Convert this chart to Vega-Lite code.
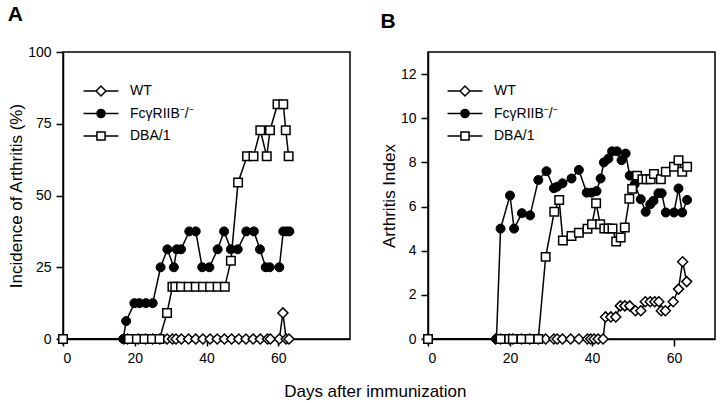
{
  "$schema": "https://vega.github.io/schema/vega-lite/v6.json",
  "padding": {"left": 6, "top": 3, "right": 2, "bottom": 2},
  "config": {
    "font": "Liberation Sans",
    "view": {"stroke": "black", "strokeWidth": 1.5},
    "axis": {"domainColor": "black", "domainWidth": 1.5, "tickColor": "black", "tickWidth": 1.5, "tickSize": 7, "labelFontSize": 14, "labelColor": "black", "labelPadding": 5, "titleFontSize": 17, "titleFontWeight": "normal", "titleColor": "black", "titlePadding": 2, "grid": false},
    "legend": {"labelFontSize": 14, "labelColor": "black", "title": null, "orient": "none", "legendY": 29, "symbolSize": 324, "symbolStrokeWidth": 1.5, "symbolOpacity": 1, "labelOffset": 19, "rowPadding": 4.5}
  },
  "datasets": {
    "a": [
      {"day": 0, "val": 0, "series": "WT"},
      {"day": 17, "val": 0, "series": "WT"},
      {"day": 18, "val": 0, "series": "WT"},
      {"day": 21, "val": 0, "series": "WT"},
      {"day": 23, "val": 0, "series": "WT"},
      {"day": 25, "val": 0, "series": "WT"},
      {"day": 27, "val": 0, "series": "WT"},
      {"day": 29, "val": 0, "series": "WT"},
      {"day": 30.5, "val": 0, "series": "WT"},
      {"day": 31.5, "val": 0, "series": "WT"},
      {"day": 33, "val": 0, "series": "WT"},
      {"day": 35, "val": 0, "series": "WT"},
      {"day": 37, "val": 0, "series": "WT"},
      {"day": 39, "val": 0, "series": "WT"},
      {"day": 41, "val": 0, "series": "WT"},
      {"day": 43, "val": 0, "series": "WT"},
      {"day": 45, "val": 0, "series": "WT"},
      {"day": 47, "val": 0, "series": "WT"},
      {"day": 49, "val": 0, "series": "WT"},
      {"day": 51, "val": 0, "series": "WT"},
      {"day": 53, "val": 0, "series": "WT"},
      {"day": 55, "val": 0, "series": "WT"},
      {"day": 57, "val": 0, "series": "WT"},
      {"day": 57.8, "val": 0, "series": "WT"},
      {"day": 60.3, "val": 0, "series": "WT"},
      {"day": 61.3, "val": 9.09, "series": "WT"},
      {"day": 62.2, "val": 0, "series": "WT"},
      {"day": 63, "val": 0, "series": "WT"},
      {"day": 0, "val": 0, "series": "FcγRIIB⁻/⁻"},
      {"day": 16.8, "val": 0, "series": "FcγRIIB⁻/⁻"},
      {"day": 17.6, "val": 6.25, "series": "FcγRIIB⁻/⁻"},
      {"day": 19.9, "val": 12.5, "series": "FcγRIIB⁻/⁻"},
      {"day": 21.3, "val": 12.5, "series": "FcγRIIB⁻/⁻"},
      {"day": 23.1, "val": 12.5, "series": "FcγRIIB⁻/⁻"},
      {"day": 25, "val": 12.5, "series": "FcγRIIB⁻/⁻"},
      {"day": 27.2, "val": 25, "series": "FcγRIIB⁻/⁻"},
      {"day": 29.1, "val": 31.25, "series": "FcγRIIB⁻/⁻"},
      {"day": 30.9, "val": 25, "series": "FcγRIIB⁻/⁻"},
      {"day": 31.7, "val": 31.25, "series": "FcγRIIB⁻/⁻"},
      {"day": 32.9, "val": 31.25, "series": "FcγRIIB⁻/⁻"},
      {"day": 35.2, "val": 37.5, "series": "FcγRIIB⁻/⁻"},
      {"day": 37, "val": 37.5, "series": "FcγRIIB⁻/⁻"},
      {"day": 38.8, "val": 25, "series": "FcγRIIB⁻/⁻"},
      {"day": 40.8, "val": 25, "series": "FcγRIIB⁻/⁻"},
      {"day": 43.1, "val": 31.25, "series": "FcγRIIB⁻/⁻"},
      {"day": 44.9, "val": 37.5, "series": "FcγRIIB⁻/⁻"},
      {"day": 46.8, "val": 31.25, "series": "FcγRIIB⁻/⁻"},
      {"day": 48.7, "val": 31.25, "series": "FcγRIIB⁻/⁻"},
      {"day": 51.1, "val": 37.5, "series": "FcγRIIB⁻/⁻"},
      {"day": 53.2, "val": 37.5, "series": "FcγRIIB⁻/⁻"},
      {"day": 54.9, "val": 31.25, "series": "FcγRIIB⁻/⁻"},
      {"day": 56.5, "val": 25, "series": "FcγRIIB⁻/⁻"},
      {"day": 57.6, "val": 25, "series": "FcγRIIB⁻/⁻"},
      {"day": 60.3, "val": 25, "series": "FcγRIIB⁻/⁻"},
      {"day": 61.4, "val": 37.5, "series": "FcγRIIB⁻/⁻"},
      {"day": 62.3, "val": 37.5, "series": "FcγRIIB⁻/⁻"},
      {"day": 63.1, "val": 37.5, "series": "FcγRIIB⁻/⁻"},
      {"day": 0, "val": 0, "series": "DBA/1"},
      {"day": 18.4, "val": 0, "series": "DBA/1"},
      {"day": 20.6, "val": 0, "series": "DBA/1"},
      {"day": 22.7, "val": 0, "series": "DBA/1"},
      {"day": 24.8, "val": 0, "series": "DBA/1"},
      {"day": 26.9, "val": 0, "series": "DBA/1"},
      {"day": 29, "val": 9.09, "series": "DBA/1"},
      {"day": 30.5, "val": 18.18, "series": "DBA/1"},
      {"day": 31.3, "val": 18.18, "series": "DBA/1"},
      {"day": 32.9, "val": 18.18, "series": "DBA/1"},
      {"day": 35, "val": 18.18, "series": "DBA/1"},
      {"day": 37, "val": 18.18, "series": "DBA/1"},
      {"day": 39, "val": 18.18, "series": "DBA/1"},
      {"day": 41, "val": 18.18, "series": "DBA/1"},
      {"day": 43.1, "val": 18.18, "series": "DBA/1"},
      {"day": 45.1, "val": 18.18, "series": "DBA/1"},
      {"day": 46.8, "val": 27.27, "series": "DBA/1"},
      {"day": 48.8, "val": 54.55, "series": "DBA/1"},
      {"day": 51.3, "val": 63.64, "series": "DBA/1"},
      {"day": 53.1, "val": 63.64, "series": "DBA/1"},
      {"day": 55, "val": 72.73, "series": "DBA/1"},
      {"day": 56.8, "val": 63.64, "series": "DBA/1"},
      {"day": 57.7, "val": 72.73, "series": "DBA/1"},
      {"day": 59.8, "val": 81.82, "series": "DBA/1"},
      {"day": 61.4, "val": 81.82, "series": "DBA/1"},
      {"day": 62.1, "val": 72.73, "series": "DBA/1"},
      {"day": 62.9, "val": 63.64, "series": "DBA/1"}
    ],
    "b": [
      {"day": 0, "val": 0, "series": "WT"},
      {"day": 16.5, "val": 0, "series": "WT"},
      {"day": 17.7, "val": 0, "series": "WT"},
      {"day": 19.8, "val": 0, "series": "WT"},
      {"day": 20.7, "val": 0, "series": "WT"},
      {"day": 22.8, "val": 0, "series": "WT"},
      {"day": 24.8, "val": 0, "series": "WT"},
      {"day": 26.9, "val": 0, "series": "WT"},
      {"day": 28.7, "val": 0, "series": "WT"},
      {"day": 30.7, "val": 0, "series": "WT"},
      {"day": 31.5, "val": 0, "series": "WT"},
      {"day": 32.8, "val": 0, "series": "WT"},
      {"day": 34.8, "val": 0, "series": "WT"},
      {"day": 36.8, "val": 0, "series": "WT"},
      {"day": 38.9, "val": 0, "series": "WT"},
      {"day": 39.7, "val": 0, "series": "WT"},
      {"day": 40.5, "val": 0, "series": "WT"},
      {"day": 41.5, "val": 0, "series": "WT"},
      {"day": 42.7, "val": 0, "series": "WT"},
      {"day": 43.3, "val": 1.0, "series": "WT"},
      {"day": 44.6, "val": 1.0, "series": "WT"},
      {"day": 45.8, "val": 1.0, "series": "WT"},
      {"day": 46.9, "val": 1.5, "series": "WT"},
      {"day": 48, "val": 1.5, "series": "WT"},
      {"day": 49.2, "val": 1.5, "series": "WT"},
      {"day": 50.6, "val": 1.28, "series": "WT"},
      {"day": 51.9, "val": 1.28, "series": "WT"},
      {"day": 53, "val": 1.69, "series": "WT"},
      {"day": 54.2, "val": 1.69, "series": "WT"},
      {"day": 55.3, "val": 1.69, "series": "WT"},
      {"day": 56.3, "val": 1.69, "series": "WT"},
      {"day": 56.9, "val": 1.28, "series": "WT"},
      {"day": 57.9, "val": 1.28, "series": "WT"},
      {"day": 59.8, "val": 1.69, "series": "WT"},
      {"day": 61.1, "val": 2.26, "series": "WT"},
      {"day": 62.1, "val": 3.5, "series": "WT"},
      {"day": 63.1, "val": 2.6, "series": "WT"},
      {"day": 0, "val": 0, "series": "FcγRIIB⁻/⁻"},
      {"day": 16.7, "val": 0, "series": "FcγRIIB⁻/⁻"},
      {"day": 17.7, "val": 5.0, "series": "FcγRIIB⁻/⁻"},
      {"day": 20, "val": 6.5, "series": "FcγRIIB⁻/⁻"},
      {"day": 21, "val": 5.0, "series": "FcγRIIB⁻/⁻"},
      {"day": 22.9, "val": 5.7, "series": "FcγRIIB⁻/⁻"},
      {"day": 24.9, "val": 5.6, "series": "FcγRIIB⁻/⁻"},
      {"day": 26.9, "val": 7.2, "series": "FcγRIIB⁻/⁻"},
      {"day": 28.9, "val": 7.6, "series": "FcγRIIB⁻/⁻"},
      {"day": 30.7, "val": 6.83, "series": "FcγRIIB⁻/⁻"},
      {"day": 31.5, "val": 6.9, "series": "FcγRIIB⁻/⁻"},
      {"day": 32.8, "val": 7.05, "series": "FcγRIIB⁻/⁻"},
      {"day": 35, "val": 7.27, "series": "FcγRIIB⁻/⁻"},
      {"day": 36.8, "val": 7.66, "series": "FcγRIIB⁻/⁻"},
      {"day": 38.7, "val": 6.63, "series": "FcγRIIB⁻/⁻"},
      {"day": 39.9, "val": 6.63, "series": "FcγRIIB⁻/⁻"},
      {"day": 41.1, "val": 6.7, "series": "FcγRIIB⁻/⁻"},
      {"day": 42.1, "val": 7.27, "series": "FcγRIIB⁻/⁻"},
      {"day": 42.9, "val": 8.0, "series": "FcγRIIB⁻/⁻"},
      {"day": 44, "val": 8.17, "series": "FcγRIIB⁻/⁻"},
      {"day": 44.9, "val": 8.5, "series": "FcγRIIB⁻/⁻"},
      {"day": 46.1, "val": 8.5, "series": "FcγRIIB⁻/⁻"},
      {"day": 47.2, "val": 8.1, "series": "FcγRIIB⁻/⁻"},
      {"day": 48.2, "val": 8.4, "series": "FcγRIIB⁻/⁻"},
      {"day": 49.2, "val": 7.4, "series": "FcγRIIB⁻/⁻"},
      {"day": 50.4, "val": 7.0, "series": "FcγRIIB⁻/⁻"},
      {"day": 51.9, "val": 6.33, "series": "FcγRIIB⁻/⁻"},
      {"day": 53.1, "val": 5.76, "series": "FcγRIIB⁻/⁻"},
      {"day": 54.2, "val": 6.1, "series": "FcγRIIB⁻/⁻"},
      {"day": 55, "val": 6.26, "series": "FcγRIIB⁻/⁻"},
      {"day": 56.2, "val": 6.6, "series": "FcγRIIB⁻/⁻"},
      {"day": 57, "val": 6.6, "series": "FcγRIIB⁻/⁻"},
      {"day": 58, "val": 5.73, "series": "FcγRIIB⁻/⁻"},
      {"day": 60, "val": 5.73, "series": "FcγRIIB⁻/⁻"},
      {"day": 61.1, "val": 6.82, "series": "FcγRIIB⁻/⁻"},
      {"day": 62, "val": 5.73, "series": "FcγRIIB⁻/⁻"},
      {"day": 63.2, "val": 6.3, "series": "FcγRIIB⁻/⁻"},
      {"day": 0, "val": 0, "series": "DBA/1"},
      {"day": 17.7, "val": 0, "series": "DBA/1"},
      {"day": 19.8, "val": 0, "series": "DBA/1"},
      {"day": 20.7, "val": 0, "series": "DBA/1"},
      {"day": 22.8, "val": 0, "series": "DBA/1"},
      {"day": 24.8, "val": 0, "series": "DBA/1"},
      {"day": 26.9, "val": 0, "series": "DBA/1"},
      {"day": 28.7, "val": 3.72, "series": "DBA/1"},
      {"day": 30.8, "val": 5.76, "series": "DBA/1"},
      {"day": 32, "val": 6.3, "series": "DBA/1"},
      {"day": 32.9, "val": 4.46, "series": "DBA/1"},
      {"day": 35, "val": 4.67, "series": "DBA/1"},
      {"day": 36.8, "val": 4.81, "series": "DBA/1"},
      {"day": 38.9, "val": 4.99, "series": "DBA/1"},
      {"day": 40, "val": 5.2, "series": "DBA/1"},
      {"day": 41, "val": 6.15, "series": "DBA/1"},
      {"day": 42, "val": 5.2, "series": "DBA/1"},
      {"day": 43, "val": 5.0, "series": "DBA/1"},
      {"day": 44, "val": 5.0, "series": "DBA/1"},
      {"day": 45, "val": 5.0, "series": "DBA/1"},
      {"day": 45.9, "val": 4.42, "series": "DBA/1"},
      {"day": 47, "val": 4.6, "series": "DBA/1"},
      {"day": 48, "val": 5.05, "series": "DBA/1"},
      {"day": 49.1, "val": 6.35, "series": "DBA/1"},
      {"day": 49.8, "val": 6.8, "series": "DBA/1"},
      {"day": 51, "val": 7.4, "series": "DBA/1"},
      {"day": 52.3, "val": 7.24, "series": "DBA/1"},
      {"day": 53.3, "val": 7.24, "series": "DBA/1"},
      {"day": 54.3, "val": 7.24, "series": "DBA/1"},
      {"day": 55.1, "val": 7.47, "series": "DBA/1"},
      {"day": 56.8, "val": 7.24, "series": "DBA/1"},
      {"day": 58, "val": 7.58, "series": "DBA/1"},
      {"day": 60, "val": 7.8, "series": "DBA/1"},
      {"day": 61.1, "val": 8.1, "series": "DBA/1"},
      {"day": 62, "val": 7.58, "series": "DBA/1"},
      {"day": 63.2, "val": 7.8, "series": "DBA/1"}
    ]
  },
  "title": {"text": "Days after immunization", "orient": "bottom", "anchor": "middle", "fontSize": 17, "fontWeight": "normal", "color": "black", "offset": 18, "dx": 14},
  "spacing": 28,
  "resolve": {"scale": {"shape": "independent", "fill": "independent", "stroke": "independent"}, "legend": {"shape": "independent", "fill": "independent", "stroke": "independent"}},
  "hconcat": [
    {
      "width": 287,
      "height": 287,
      "title": {"text": "A", "anchor": "start", "fontSize": 21, "fontWeight": "bold", "color": "black", "offset": 20},
      "data": {"name": "a"},
      "encoding": {
        "x": {"field": "day", "type": "quantitative", "scale": {"domain": [0, 80], "nice": false}, "axis": {"values": [0, 20, 40, 60], "title": null}},
        "y": {"field": "val", "type": "quantitative", "scale": {"domain": [0, 100], "nice": false}, "axis": {"values": [0, 25, 50, 75, 100], "title": "Incidence of Arthritis (%)"}}
      },
      "layer": [
        {"mark": {"type": "line", "color": "black", "strokeWidth": 1.5}, "encoding": {"detail": {"field": "series"}}},
        {"transform": [{"filter": "datum.series === 'WT'"}], "mark": {"type": "point", "shape": "diamond", "size": 100, "filled": true, "fill": "white", "stroke": "black", "strokeWidth": 1.5, "opacity": 1}},
        {"transform": [{"filter": "datum.series !== 'WT' && datum.series !== 'DBA/1'"}], "mark": {"type": "point", "shape": "circle", "size": 81, "filled": true, "fill": "black", "stroke": "black", "strokeWidth": 1, "opacity": 1}},
        {"transform": [{"filter": "datum.series === 'DBA/1'"}], "mark": {"type": "point", "shape": "square", "size": 72, "filled": true, "fill": "white", "stroke": "black", "strokeWidth": 1.5, "opacity": 1}},
        {
          "mark": {"type": "point", "opacity": 0, "filled": true, "strokeWidth": 1.5},
          "encoding": {
            "shape": {"field": "series", "type": "nominal", "scale": {"domain": ["WT", "FcγRIIB⁻/⁻", "DBA/1"], "range": ["M-1.94,0L-0.55,0M0.55,0L1.94,0M-0.55,0L0,-0.55L0.55,0L0,0.55Z", "M-1.94,0L-0.45,0M0.45,0L1.94,0M-0.45,0A0.45,0.45,0,1,1,0.45,0A0.45,0.45,0,1,1,-0.45,0Z", "M-1.94,0L-0.45,0M0.45,0L1.94,0M-0.45,-0.45L0.45,-0.45L0.45,0.45L-0.45,0.45Z"]}, "legend": {"legendX": 28}},
            "fill": {"field": "series", "type": "nominal", "scale": {"domain": ["WT", "FcγRIIB⁻/⁻", "DBA/1"], "range": ["white", "black", "white"]}, "legend": {"legendX": 28}},
            "stroke": {"field": "series", "type": "nominal", "scale": {"domain": ["WT", "FcγRIIB⁻/⁻", "DBA/1"], "range": ["black", "black", "black"]}, "legend": {"legendX": 28}}
          }
        }
      ]
    },
    {
      "width": 287,
      "height": 287,
      "title": {"text": "B", "anchor": "start", "fontSize": 21, "fontWeight": "bold", "color": "black", "offset": 20},
      "data": {"name": "b"},
      "encoding": {
        "x": {"field": "day", "type": "quantitative", "scale": {"domain": [0, 70], "nice": false}, "axis": {"values": [0, 20, 40, 60], "title": null}},
        "y": {"field": "val", "type": "quantitative", "scale": {"domain": [0, 13], "nice": false}, "axis": {"values": [0, 2, 4, 6, 8, 10, 12], "title": "Arthritis Index"}}
      },
      "layer": [
        {"mark": {"type": "line", "color": "black", "strokeWidth": 1.5}, "encoding": {"detail": {"field": "series"}}},
        {"transform": [{"filter": "datum.series === 'WT'"}], "mark": {"type": "point", "shape": "diamond", "size": 100, "filled": true, "fill": "white", "stroke": "black", "strokeWidth": 1.5, "opacity": 1}},
        {"transform": [{"filter": "datum.series !== 'WT' && datum.series !== 'DBA/1'"}], "mark": {"type": "point", "shape": "circle", "size": 81, "filled": true, "fill": "black", "stroke": "black", "strokeWidth": 1, "opacity": 1}},
        {"transform": [{"filter": "datum.series === 'DBA/1'"}], "mark": {"type": "point", "shape": "square", "size": 72, "filled": true, "fill": "white", "stroke": "black", "strokeWidth": 1.5, "opacity": 1}},
        {
          "mark": {"type": "point", "opacity": 0, "filled": true, "strokeWidth": 1.5},
          "encoding": {
            "shape": {"field": "series", "type": "nominal", "scale": {"domain": ["WT", "FcγRIIB⁻/⁻", "DBA/1"], "range": ["M-1.94,0L-0.55,0M0.55,0L1.94,0M-0.55,0L0,-0.55L0.55,0L0,0.55Z", "M-1.94,0L-0.45,0M0.45,0L1.94,0M-0.45,0A0.45,0.45,0,1,1,0.45,0A0.45,0.45,0,1,1,-0.45,0Z", "M-1.94,0L-0.45,0M0.45,0L1.94,0M-0.45,-0.45L0.45,-0.45L0.45,0.45L-0.45,0.45Z"]}, "legend": {"legendX": 27}},
            "fill": {"field": "series", "type": "nominal", "scale": {"domain": ["WT", "FcγRIIB⁻/⁻", "DBA/1"], "range": ["white", "black", "white"]}, "legend": {"legendX": 27}},
            "stroke": {"field": "series", "type": "nominal", "scale": {"domain": ["WT", "FcγRIIB⁻/⁻", "DBA/1"], "range": ["black", "black", "black"]}, "legend": {"legendX": 27}}
          }
        }
      ]
    }
  ]
}
